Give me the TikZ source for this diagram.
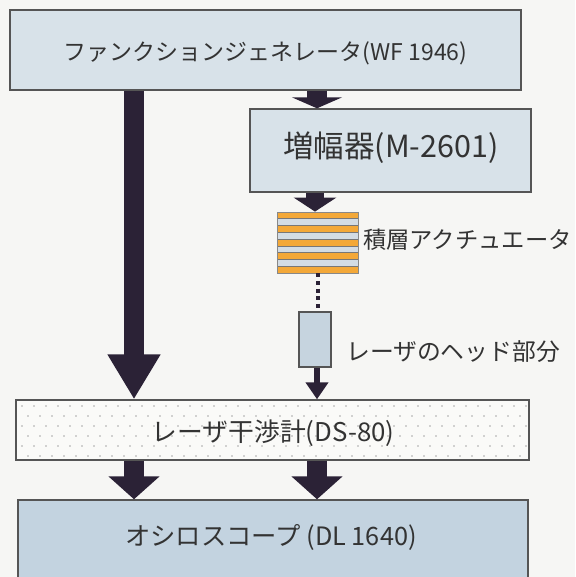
\documentclass[tikz,border=0pt]{standalone}
\usepackage{fontspec}
\setmainfont{Noto Sans CJK JP}
\usetikzlibrary{arrows.meta,calc}
\definecolor{bg}{HTML}{F6F6F4}
\definecolor{boxfill}{HTML}{D8E2E9}
\definecolor{oscfill}{HTML}{C3D3E0}
\definecolor{headfill}{HTML}{C6D4DF}
\definecolor{ifmfill}{HTML}{FAFAF8}
\definecolor{arrowc}{HTML}{2B2236}
\definecolor{edge}{HTML}{555555}
\definecolor{orng}{HTML}{F3A838}
\definecolor{stripe}{HTML}{D3DCE4}
\definecolor{dotc}{HTML}{A8A8A8}
\begin{document}
\begin{tikzpicture}[x=1pt,y=-1pt,
  box/.style={draw=edge, line width=1.4pt, rectangle, inner sep=0pt, anchor=center},
  fat/.style={draw=arrowc, line width=20pt, -{Triangle[width=50pt,length=#1]}},
  thinarrow/.style={draw=arrowc, line width=6pt, -{Triangle[width=22pt,length=17pt]}},
  mid/.style={draw=arrowc, line width=18pt, -{Triangle[width=42pt,length=14pt]}},
  dotline/.style={draw=arrowc, line width=4pt, dash pattern=on 4pt off 3.6pt},
  lbl/.style={inner sep=0pt, text=black!80, font=\fontsize{#1}{#1}\selectfont}
]
\clip (0,0) rectangle (575,577);
\fill[bg] (0,0) rectangle (575,577);

% boxes
\node[box, fill=boxfill, minimum width=511pt, minimum height=80pt] (fg) at (265.5,50) {};
\node[lbl=23] (fglabel) at (265.5,53) {ファンクションジェネレータ(WF 1946)};

\node[box, fill=boxfill, minimum width=281pt, minimum height=83pt] (amp) at (390.5,150.5) {};
\node[lbl=30.5] (amplabel) at (391,148) {増幅器(M-2601)};

% actuator stripes
\foreach \i in {0,...,8}{
  \pgfmathsetmacro{\ya}{212+\i*61/9}
  \pgfmathsetmacro{\yb}{212+(\i+1)*61/9}
  \ifodd\i
    \fill[stripe] (277,\ya) rectangle (358,\yb);
  \else
    \fill[orng] (277,\ya) rectangle (358,\yb);
  \fi
}
\foreach \i in {1,...,8}{
  \draw[edge!80, line width=0.6pt] (277,{212+\i*61/9}) -- (358,{212+\i*61/9});
}
\node[box, draw=edge!70, line width=0.8pt, minimum width=81pt, minimum height=61pt] (act) at (317.5,242.5) {};
\node[lbl=23.3, anchor=west] (actlabel) at (363,240) {積層アクチュエータ};

\node[box, fill=headfill, minimum width=32pt, minimum height=55pt] (head) at (315,339.5) {};
\node[lbl=23.8, anchor=west] (headlabel) at (346,352) {レーザのヘッド部分};

% interferometer
\node[box, fill=ifmfill, minimum width=513pt, minimum height=60pt] (ifm) at (272.5,430) {};
\begin{scope}
  \clip (18,402) rectangle (527,458);
  \foreach \r in {0,...,5}{
    \foreach \c in {0,...,43}{
      \pgfmathsetmacro{\xx}{22+\c*12+mod(\r,2)*6}
      \fill[dotc] (\xx,{406+\r*10}) circle (0.8pt);
    }
  }
\end{scope}
\node[lbl=25.8] (ifmlabel) at (273,433) {レーザ干渉計(DS-80)};

\node[box, fill=oscfill, minimum width=510pt, minimum height=90pt] (osc) at (273,545) {};
\node[lbl=25.3] (osclabel) at (271,537) {オシロスコープ\ (DL 1640)};

% connector columns
\coordinate (cL) at (134,0);
\coordinate (cR) at (317,0);
\coordinate (cA) at (315,0);
\coordinate (cB) at (318,0);

% arrows
\draw[fat=45pt] (fg.south -| cL) -- (ifm.north -| cL);
\draw[fat=11pt] (fg.south -| cR) -- (amp.north -| cR);
\draw[mid] (amp.south -| cA) -- (act.north -| cA);
\draw[dotline] (act.south -| cB) -- (head.north -| cB);
\draw[thinarrow] (head.south -| cR) -- (ifm.north -| cR);
\draw[fat=23pt] (ifm.south -| cL) -- (osc.north -| cL);
\draw[fat=23pt] (ifm.south -| cR) -- (osc.north -| cR);
\end{tikzpicture}
\end{document}
